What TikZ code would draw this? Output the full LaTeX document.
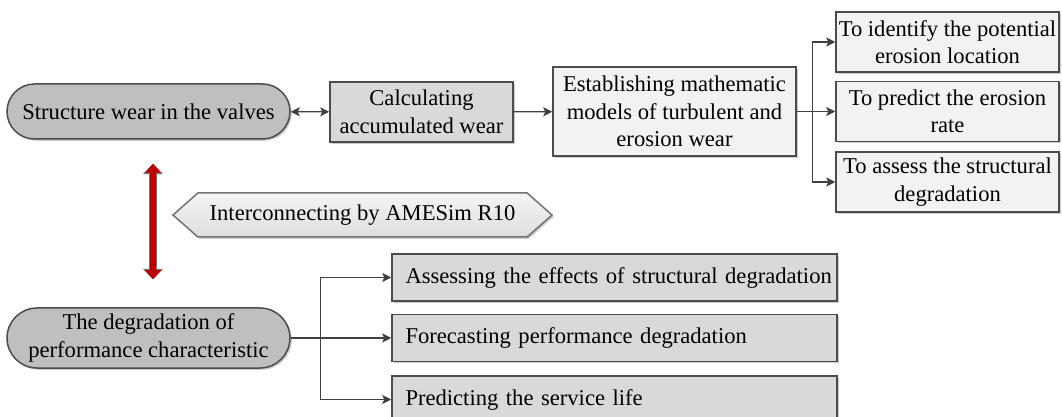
\documentclass[tikz,border=0pt]{standalone}
\usepackage{fontspec}
\setmainfont{Liberation Serif}
\usetikzlibrary{shapes.misc, shapes.symbols, shadows, arrows.meta}

\begin{document}
\begin{tikzpicture}
[every node/.style={inner sep=0pt, font=\fontsize{11.3}{13.75}\selectfont, align=center},
 >={Stealth[length=4.5pt, width=4.5pt, inset=1pt]},
 boxshadow/.style={drop shadow={shadow xshift=0.9pt, shadow yshift=-0.9pt, fill=black!40, opacity=0.5}},
 stage/.style={rounded rectangle, minimum width=141.5pt, fill=black!25, draw=black!70, line width=0.75pt, boxshadow},
 task/.style={rectangle, fill=black!15, draw=black!70, line width=0.75pt, boxshadow},
 model/.style={rectangle, fill=black!5, draw=black!70, line width=0.75pt, boxshadow},
 goal/.style={model, minimum width=111.5pt, minimum height=30pt},
 effect/.style={task, align=left, text width=209pt, inner xsep=6.75pt, minimum height=23.5pt},
 link/.style={draw=black!75, line width=0.65pt, ->},
 redlink/.style={draw=red!75!black, line width=3pt, {Triangle[length=4.5pt, width=8pt]}-{Triangle[length=4.5pt, width=8pt]},
   preaction={draw=black!55, line width=4.2pt, {Triangle[length=5.2pt, width=9.6pt]}-{Triangle[length=5.2pt, width=9.6pt]}}}]
\useasboundingbox (0pt, 0pt) rectangle (531pt, -208.5pt);

% wear side
\node (wear) [stage, minimum height=27.5pt] at (74.25pt, -55.75pt) {Structure wear in the valves};
\node (calc) [task, minimum width=91.5pt, minimum height=30pt] at (210.75pt, -56pt) {Calculating\\accumulated wear};
\node (model) [model, minimum width=121.5pt, minimum height=44.5pt] at (337.25pt, -55.75pt) {Establishing mathematic\\models of turbulent and\\erosion wear};
\node (locate) [goal] at (473.75pt, -21pt) {To identify the potential\\erosion location};
\node (rate) [goal] at (473.75pt, -55.75pt) {To predict the erosion\\rate};
\node (assess) [goal] at (473.75pt, -91pt) {To assess the structural\\degradation};

% interface
\node (amesim) [signal, signal to=west and east, signal pointer angle=83, minimum width=189.5pt, minimum height=22pt,
  top color=black!4, bottom color=black!13, draw=black!55, line width=0.75pt, boxshadow] at (181.25pt, -107.5pt) {Interconnecting by AMESim R10};

% performance side
\node (perf) [stage, minimum height=30pt] at (74.25pt, -169pt) {The degradation of\\performance characteristic};
\node (effects) [effect] at (307.25pt, -138.75pt) {\mbox{Assessing the effects of structural degradation}};
\node (forecast) [effect] at (307.25pt, -169pt) {Forecasting performance degradation};
\node (life) [effect] at (307.25pt, -199.75pt) {Predicting the service life};

\draw [link, <->] (wear) to (calc);
\draw [link] (calc) to (model);
\draw [link] (model.east) -- ++(8pt, 0pt) coordinate (fork1) |- (locate.west);
\draw [link] (fork1) to (rate.west);
\draw [link] (fork1) |- (assess.west);
\draw [link] (perf.east) -- ++(15pt, 0pt) coordinate (fork2) |- (effects.west);
\draw [link] (fork2) to (forecast.west);
\draw [link] (fork2) |- (life.west);
\draw [redlink] ([xshift=2.25pt, yshift=-12pt] wear.south) to ([xshift=2.25pt, yshift=14pt] perf.north);
\end{tikzpicture}
\end{document}
